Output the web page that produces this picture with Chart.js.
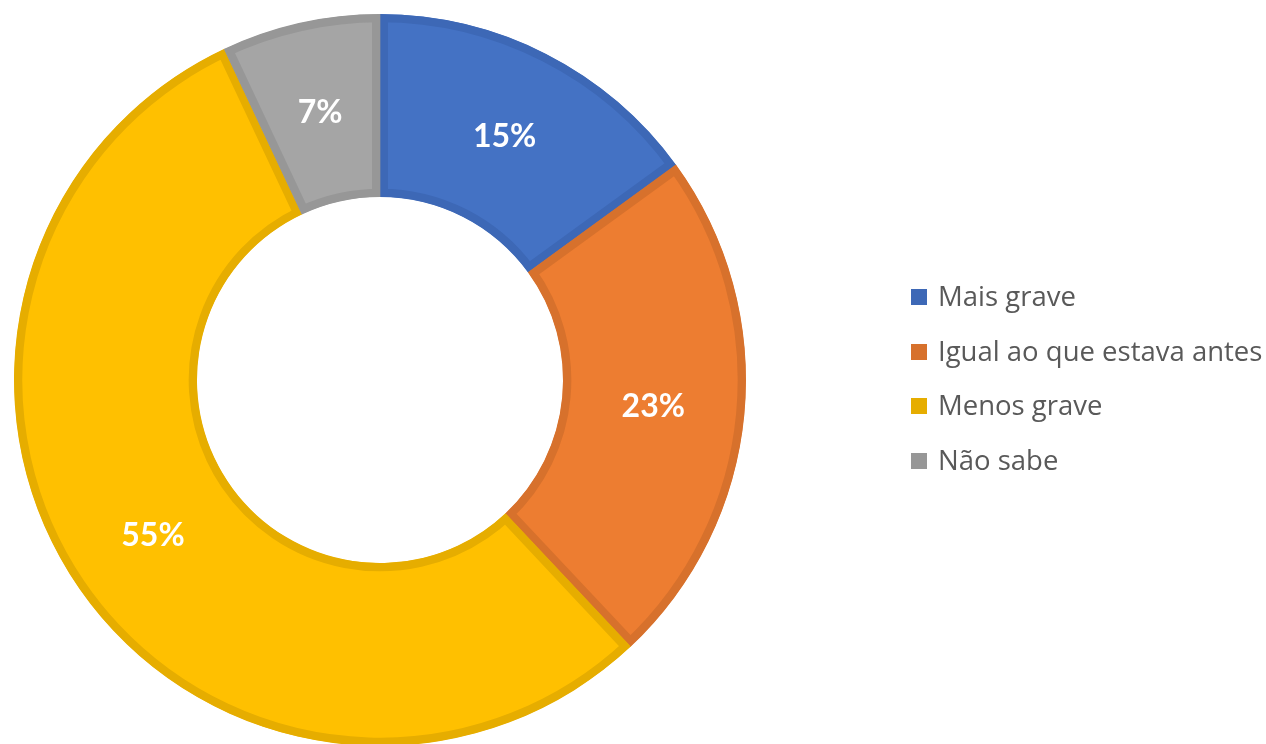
<!DOCTYPE html>
<html>
<head>
<meta charset="utf-8">
<script src="https://cdn.jsdelivr.net/npm/chart.js@4.4.1/dist/chart.umd.min.js"></script>
<style>
    html, body { margin: 0; padding: 0; background: #fff; }
    #caixa { position: relative; width: 1266px; height: 744px; }
    #legenda { position: absolute; left: 911px; top: 278px; font-family: "Open Sans", Lato, sans-serif; font-size: 27.5px; color: #595959; }
    .item { height: 54.6px; display: flex; align-items: flex-start; white-space: nowrap; line-height: 36px; }
    .quadrado { width: 16px; height: 16px; margin-top: 11px; margin-right: 11px; flex: none; }
</style>
</head>
<body>
<div id="caixa">
    <canvas id="grafico-gravidade" width="1266" height="744"></canvas>
    <div id="legenda"></div>
</div>
<script>
const categorias = ["Mais grave", "Igual ao que estava antes", "Menos grave", "Não sabe"];
const valores = [15, 23, 55, 7];
const cores = ['#4472C4', '#ED7D31', '#FFC000', '#A5A5A5'];
const bordas = ['#3D68B6', '#D7712C', '#E6AD00', '#979797'];

// rótulos de porcentagem no meio de cada fatia
const rotulosPlugin = {
    id: 'rotulos',
    afterDatasetsDraw(chart) {
        const ctx = chart.ctx;
        const total = valores.reduce((a, b) => a + b, 0);
        chart.getDatasetMeta(0).data.forEach((arco, i) => {
            const pos = arco.tooltipPosition();
            ctx.save();
            ctx.fillStyle = '#FFFFFF';
            ctx.font = 'bold 32px Lato, "Open Sans", sans-serif';
            ctx.textAlign = 'center';
            ctx.textBaseline = 'middle';
            ctx.fillText(Math.round(valores[i] / total * 100) + '%', pos.x, pos.y + 1);
            ctx.restore();
        });
    }
};

function montaLegenda() {
    const legenda = document.getElementById("legenda");
    categorias.forEach((nome, i) => {
        const item = document.createElement("div");
        item.className = "item";
        const q = document.createElement("span");
        q.className = "quadrado";
        q.style.background = bordas[i];
        const t = document.createElement("span");
        t.textContent = nome;
        item.appendChild(q);
        item.appendChild(t);
        legenda.appendChild(item);
    });
}

const config = {
    type: 'doughnut',
    data: {
        labels: categorias,
        datasets: [{
            data: valores,
            backgroundColor: cores,
            borderColor: bordas,
            borderWidth: 8,
            borderAlign: 'inner',
            hoverOffset: 0
        }]
    },
    options: {
        responsive: false,
        animation: false,
        radius: 366,
        cutout: '50%',
        layout: {
            padding: { left: 14, right: 520, top: 16, bottom: 0 }
        },
        plugins: {
            legend: { display: false },
            tooltip: { enabled: false }
        }
    },
    plugins: [rotulosPlugin]
};

montaLegenda();
new Chart(document.getElementById("grafico-gravidade"), config);
</script>
</body>
</html>
